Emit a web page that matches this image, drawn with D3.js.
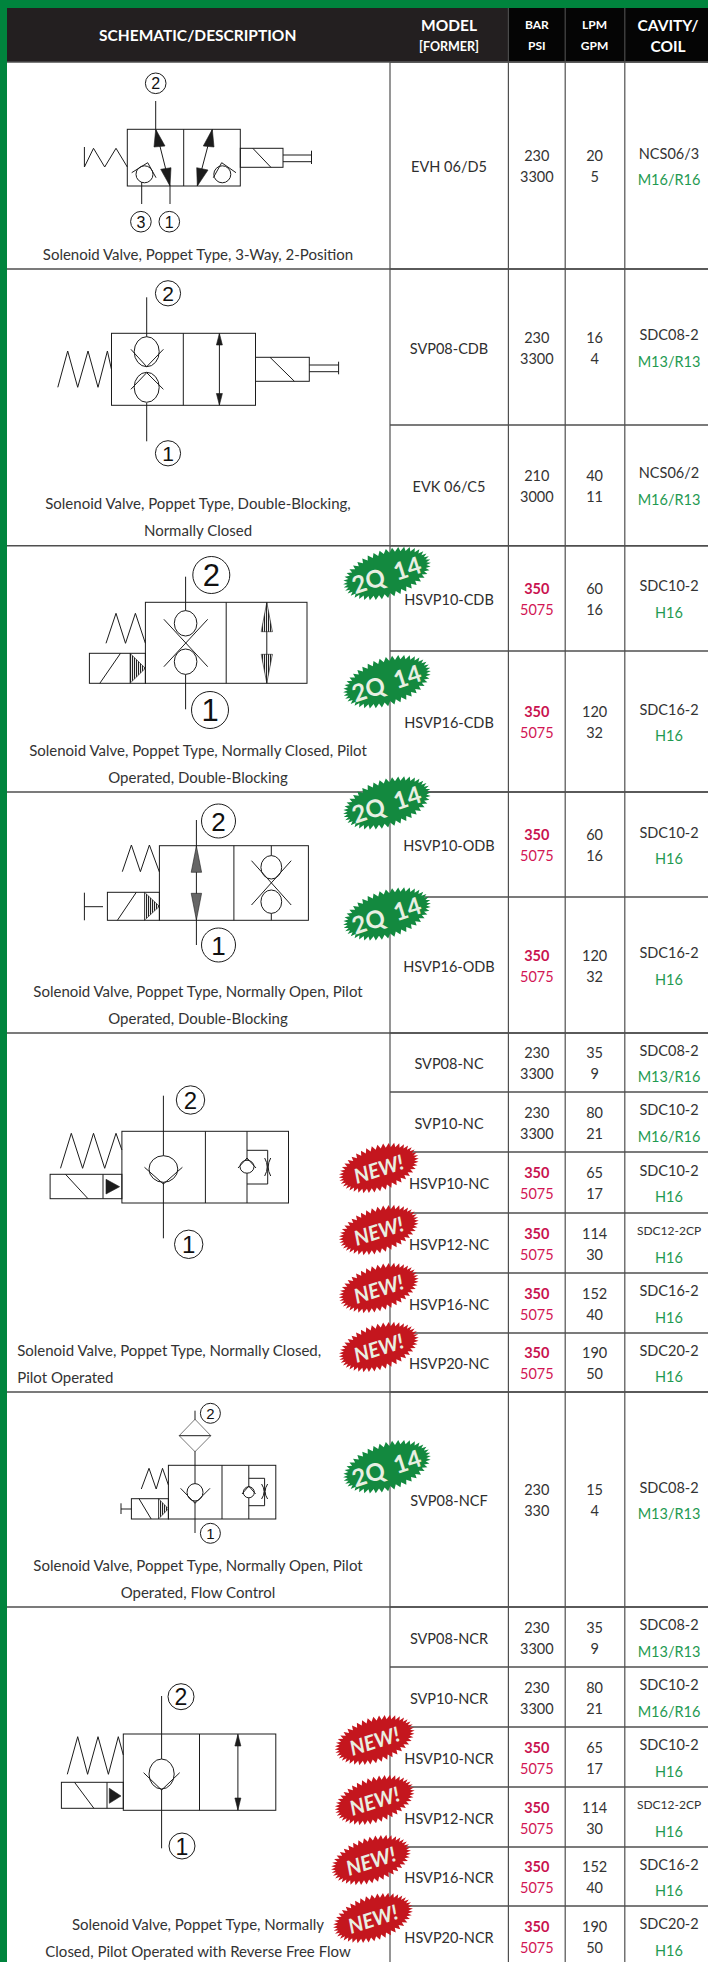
<!DOCTYPE html>
<html>
<head>
<meta charset="utf-8">
<script src="https://cdn.jsdelivr.net/npm/d3@7"></script>
<style>
body { margin: 0; background: #fff; }
svg { display: block; }
text { font-family: Lato, "Noto Sans", sans-serif; }
.sym { fill: none; stroke: #1c1c1c; stroke-width: 1; }
</style>
</head>
<body>
<div class="container"></div>
<script>
const WIDTH = 708;
const HEIGHT = 1962;

// table data
var models = ["EVH 06/D5", "SVP08-CDB", "EVK 06/C5", "HSVP10-CDB", "HSVP16-CDB", "HSVP10-ODB", "HSVP16-ODB",
	"SVP08-NC", "SVP10-NC", "HSVP10-NC", "HSVP12-NC", "HSVP16-NC", "HSVP20-NC", "SVP08-NCF",
	"SVP08-NCR", "SVP10-NCR", "HSVP10-NCR", "HSVP12-NCR", "HSVP16-NCR", "HSVP20-NCR"];
var bar = [230, 230, 210, 350, 350, 350, 350, 230, 230, 350, 350, 350, 350, 230, 230, 230, 350, 350, 350, 350];
var psi = [3300, 3300, 3000, 5075, 5075, 5075, 5075, 3300, 3300, 5075, 5075, 5075, 5075, 330, 3300, 3300, 5075, 5075, 5075, 5075];
var lpm = [20, 16, 40, 60, 120, 60, 120, 35, 80, 65, 114, 152, 190, 15, 35, 80, 65, 114, 152, 190];
var gpm = [5, 4, 11, 16, 32, 16, 32, 9, 21, 17, 30, 40, 50, 4, 9, 21, 17, 30, 40, 50];
var cavities = ["NCS06/3", "SDC08-2", "NCS06/2", "SDC10-2", "SDC16-2", "SDC10-2", "SDC16-2", "SDC08-2", "SDC10-2", "SDC10-2",
	"SDC12-2CP", "SDC16-2", "SDC20-2", "SDC08-2", "SDC08-2", "SDC10-2", "SDC10-2", "SDC12-2CP", "SDC16-2", "SDC20-2"];
var coils = ["M16/R16", "M13/R13", "M16/R13", "H16", "H16", "H16", "H16", "M13/R16", "M16/R16", "H16",
	"H16", "H16", "H16", "M13/R13", "M13/R13", "M16/R16", "H16", "H16", "H16", "H16"];
var badges2Q = ["HSVP10-CDB", "HSVP16-CDB", "HSVP10-ODB", "HSVP16-ODB", "SVP08-NCF"];
var badgesNew = ["HSVP10-NC", "HSVP12-NC", "HSVP16-NC", "HSVP20-NC", "HSVP10-NCR", "HSVP12-NCR", "HSVP16-NCR", "HSVP20-NCR"];
var descriptions = [
	["Solenoid Valve, Poppet Type, 3-Way, 2-Position"],
	["Solenoid Valve, Poppet Type, Double-Blocking,", "Normally Closed"],
	["Solenoid Valve, Poppet Type, Normally Closed, Pilot", "Operated, Double-Blocking"],
	["Solenoid Valve, Poppet Type, Normally Open, Pilot", "Operated, Double-Blocking"],
	["Solenoid Valve, Poppet Type, Normally Closed,", "Pilot Operated"],
	["Solenoid Valve, Poppet Type, Normally Open, Pilot", "Operated, Flow Control"],
	["Solenoid Valve, Poppet Type, Normally", "Closed, Pilot Operated with Reverse Free Flow"]
];

// layout
var rowTops = [62, 269, 425, 545.7, 651, 792, 897, 1033, 1092, 1152, 1213, 1273, 1333, 1392, 1607, 1667, 1727, 1787, 1847, 1906];
var rowEnds = rowTops.slice(1).concat([1966]);
var groupTops = [62, 269, 545.7, 792, 1033, 1392, 1607];
var descY = [253.5, 503, 750, 991.3, 1350, 1565, 1924];
var colEdges = [7, 390, 508.4, 565.2, 624.8, 708];

var yTop = d3.scaleOrdinal().domain(models).range(rowTops);
var yEnd = d3.scaleOrdinal().domain(models).range(rowEnds);
var xCol = d3.scaleOrdinal().domain(["model", "bar", "lpm", "cavity"]).range([449, 536.8, 594.6, 669]);
var yMid = function(d){ return (yTop(d) + yEnd(d)) / 2 + 0.5; };

var svg = d3.select(".container").append("svg")
	.attr("width", WIDTH)
	.attr("height", HEIGHT);

var hatch = svg.append("defs").append("pattern")
	.attr("id", "hatch")
	.attr("patternUnits", "userSpaceOnUse")
	.attr("width", 2)
	.attr("height", 2);
hatch.append("rect").attr("width", 2).attr("height", 2).attr("fill", "#fff");
hatch.append("rect").attr("width", 1.1).attr("height", 2).attr("fill", "#222");

// green frame and header
svg.append("rect").attr("width", WIDTH).attr("height", HEIGHT).attr("fill", "#fff");
svg.append("rect").attr("width", WIDTH).attr("height", 8).attr("fill", "#00843d");
svg.append("rect").attr("width", 7).attr("height", HEIGHT).attr("fill", "#00843d");
svg.append("rect").attr("x", 7).attr("y", 8).attr("width", 501).attr("height", 54).attr("fill", "#231f20");
svg.append("rect").attr("x", 508).attr("y", 8).attr("width", 200).attr("height", 54).attr("fill", "#050505");

var hline = function(x1, x2, y){
	svg.append("line").attr("x1", x1).attr("x2", x2).attr("y1", y).attr("y2", y)
		.attr("stroke", "#4f4f4f").attr("stroke-width", 1.4);
};

// grid
models.forEach(function(d){ hline(390, WIDTH, yTop(d)); });
groupTops.forEach(function(y){ hline(7, WIDTH, y); });
colEdges.slice(1, 5).forEach(function(x){
	svg.append("line").attr("x1", x).attr("x2", x).attr("y1", 62).attr("y2", HEIGHT)
		.attr("stroke", "#4f4f4f").attr("stroke-width", 1.2);
});
colEdges.slice(2, 5).forEach(function(x){
	svg.append("line").attr("x1", x).attr("x2", x).attr("y1", 8).attr("y2", 62)
		.attr("stroke", "#4a4a4a").attr("stroke-width", 1.2);
});

// header labels
var headerText = function(x, y, label, size){
	svg.append("text")
		.attr("x", x).attr("y", y)
		.attr("text-anchor", "middle")
		.attr("dominant-baseline", "central")
		.attr("fill", "#fff")
		.attr("font-weight", 700)
		.attr("font-size", size)
		.text(label);
};
headerText(197.7, 35, "SCHEMATIC/DESCRIPTION", 15.5);
headerText(449, 24.5, "MODEL", 15.5);
headerText(449, 46, "[FORMER]", 12.5);
headerText(536.8, 24.5, "BAR", 12);
headerText(536.8, 45.5, "PSI", 12);
headerText(594.6, 24.5, "LPM", 12);
headerText(594.6, 45.5, "GPM", 12);
headerText(668, 24.5, "CAVITY/", 15.5);
headerText(668, 45.5, "COIL", 15.5);

// helpers for schematics
var poly = function(g, pts){
	return g.append("path").attr("class", "sym").attr("d", d3.line()(pts));
};
var solid = function(g, pts, fill){
	g.append("path").attr("d", d3.line()(pts) + "Z").attr("fill", fill || "#1c1c1c").attr("stroke", "#1c1c1c").attr("stroke-width", 0.6);
};
var box = function(g, x1, y1, x2, y2){
	g.append("rect").attr("class", "sym").attr("x", x1).attr("y", y1).attr("width", x2 - x1).attr("height", y2 - y1);
};
var ball = function(g, cx, cy, rx, ry){
	g.append("ellipse").attr("class", "sym").attr("cx", cx).attr("cy", cy).attr("rx", rx).attr("ry", ry).style("fill", "#fff");
};
var port = function(g, cx, cy, r, label, size){
	ball(g, cx, cy, r, r);
	g.append("text").attr("x", cx).attr("y", cy + 0.5)
		.attr("text-anchor", "middle").attr("dominant-baseline", "central")
		.style("font-family", "Liberation Sans")
		.attr("font-size", size).attr("fill", "#111").text(label);
};
var head = function(g, x, tipY, baseY, hw, fill){
	solid(g, [[x, tipY], [x - hw, baseY], [x + hw, baseY]], fill);
};
var orifice = function(g, x, y1, y2){
	var my = (y1 + y2) / 2;
	g.append("path").attr("class", "sym").attr("d", "M" + (x - 3) + "," + y1 + "Q" + (x + 2) + "," + my + " " + (x - 3) + "," + y2);
	g.append("path").attr("class", "sym").attr("d", "M" + (x + 3) + "," + y1 + "Q" + (x - 2) + "," + my + " " + (x + 3) + "," + y2);
};

var sym = svg.append("g");

var schem1 = function(g){
	box(g, 127.3, 129.3, 240.3, 186);
	poly(g, [[183.7, 129.3], [183.7, 186]]);
	poly(g, [[155.7, 101], [155.7, 129.3], [170, 186], [170, 204]]);
	poly(g, [[212.3, 129.3], [197.3, 186]]);
	solid(g, [[155.7, 129.3], [154, 147], [165, 146]]);
	solid(g, [[170, 186], [160.7, 169.3], [171, 167.7]]);
	solid(g, [[212.3, 129.3], [203.3, 146], [214, 147]]);
	solid(g, [[197.3, 186], [196.7, 167.7], [208, 170]]);
	poly(g, [[84.4, 147], [84.4, 167], [93.5, 148.3], [104.7, 167], [116, 148.3], [127.3, 167]]);
	ball(g, 144.5, 174.3, 8.5, 8.5);
	poly(g, [[131.7, 172.7], [147.7, 162.7], [156, 177.7]]);
	poly(g, [[141.7, 182], [141.7, 204]]);
	ball(g, 222.3, 174.3, 8.5, 8.5);
	poly(g, [[213.3, 177.7], [221.7, 162.7], [236, 172.7]]);
	box(g, 240.3, 148.3, 283, 167.3);
	poly(g, [[252.8, 148.3], [270.9, 167.3]]);
	poly(g, [[283, 155], [311.5, 155]]);
	poly(g, [[283, 161.7], [311.5, 161.7]]);
	poly(g, [[311.5, 150.7], [311.5, 164]]);
	port(g, 155.7, 83.3, 10.3, "2", 16);
	port(g, 140.9, 221.7, 10.3, "3", 16);
	port(g, 169.3, 221.7, 10.3, "1", 16);
};

var schem2 = function(g){
	box(g, 111.5, 333.3, 255.5, 405.3);
	poly(g, [[183.3, 333.3], [183.3, 405.3]]);
	poly(g, [[146.7, 297.3], [146.7, 337]]);
	poly(g, [[146.7, 403], [146.7, 441.3]]);
	ball(g, 146.7, 351.7, 12.5, 15);
	ball(g, 146.7, 387.3, 12.5, 15);
	poly(g, [[130.9, 349.3], [146.7, 366.7], [163.4, 349.3]]);
	poly(g, [[130.9, 389.3], [146.7, 372.7], [163.4, 389.3]]);
	poly(g, [[219.4, 333.3], [219.4, 405.3]]);
	head(g, 219.4, 333.5, 345, 3);
	head(g, 219.4, 405, 393.5, 3);
	poly(g, [[57.8, 387.3], [67.7, 351], [77.7, 387.3], [88, 351], [98, 387.3], [107.4, 351], [111.5, 369.7]]);
	box(g, 255.5, 357.3, 309.3, 381.3);
	poly(g, [[270, 357.3], [294.4, 381.3]]);
	poly(g, [[309.3, 365], [338.6, 365]]);
	poly(g, [[309.3, 371.7], [338.6, 371.7]]);
	poly(g, [[338.6, 361.7], [338.6, 374.3]]);
	port(g, 168, 293.3, 12.6, "2", 21);
	port(g, 168, 453.3, 12.6, "1", 21);
};

var schem3 = function(g){
	box(g, 145.4, 602.3, 307, 683.3);
	box(g, 89.4, 653.3, 145.4, 683.3);
	poly(g, [[226.2, 602.3], [226.2, 683.3]]);
	poly(g, [[185.6, 576.7], [185.6, 611]]);
	poly(g, [[185.6, 674], [185.6, 709.3]]);
	ball(g, 185.6, 623.3, 11.3, 12.7);
	ball(g, 185.6, 661.7, 11.3, 12.7);
	poly(g, [[163.9, 619.3], [207.7, 666.7]]);
	poly(g, [[207.7, 619.3], [163.9, 666.7]]);
	poly(g, [[266.8, 602.3], [266.8, 683.3]]);
	head(g, 266.8, 602.5, 631.7, 5.6, "url(#hatch)");
	head(g, 266.8, 683, 654.3, 5.6, "url(#hatch)");
	poly(g, [[106, 643.3], [116, 613.3], [125.5, 643.3], [135.4, 613.3], [145.4, 643.3]]);
	poly(g, [[99.8, 683.3], [120.5, 653.3]]);
	solid(g, [[130, 653.3], [145.4, 668.3], [130, 683.3]], "url(#hatch)");
	port(g, 211.3, 575, 18.5, "2", 31);
	port(g, 210, 710, 18.5, "1", 31);
};

var schem4 = function(g){
	box(g, 159.4, 845.7, 308.4, 920.3);
	box(g, 107.4, 892.3, 159.4, 920.3);
	poly(g, [[233.9, 845.7], [233.9, 920.3]]);
	poly(g, [[196.4, 820], [196.4, 945]]);
	head(g, 196.4, 846, 872.3, 5.2, "#666");
	head(g, 196.4, 920, 893.3, 5.2, "#666");
	poly(g, [[271.3, 845.7], [271.3, 860]]);
	poly(g, [[271.3, 909], [271.3, 920.3]]);
	ball(g, 271.3, 867.3, 10.4, 11.7);
	ball(g, 271.3, 901.7, 10.4, 11.7);
	poly(g, [[251.5, 860.7], [291.2, 905]]);
	poly(g, [[291.2, 860.7], [251.5, 905]]);
	poly(g, [[122.3, 871.7], [131.4, 845], [140.4, 871.7], [149.4, 845], [159.4, 872]]);
	poly(g, [[117.4, 920.3], [136.3, 892.3]]);
	solid(g, [[144.5, 892.3], [159.4, 906.3], [144.5, 920.3]], "url(#hatch)");
	poly(g, [[84.4, 892.7], [84.4, 920.3]]);
	poly(g, [[84.4, 906.7], [103, 906.7]]);
	port(g, 218.5, 821, 17, "2", 26);
	port(g, 218.5, 945, 17, "1", 26);
};

var schem5 = function(g){
	box(g, 121.9, 1131.3, 288.5, 1203);
	box(g, 50.1, 1174.3, 121.9, 1198.7);
	poly(g, [[205.4, 1131.3], [205.4, 1203]]);
	poly(g, [[247, 1131.3], [247, 1203]]);
	poly(g, [[163.4, 1095.7], [163.4, 1238.3]]);
	ball(g, 163.4, 1169, 14.4, 13.3);
	poly(g, [[144.5, 1167.3], [163.4, 1184], [182.4, 1167.3]]);
	poly(g, [[247, 1150.3], [267.7, 1150.3], [267.7, 1184], [247, 1184]]);
	ball(g, 247, 1166.7, 7, 6.5);
	poly(g, [[238, 1168], [247, 1158], [256, 1168]]);
	orifice(g, 267.7, 1158, 1176);
	poly(g, [[60.5, 1168.3], [71.3, 1133.3], [82.6, 1168.3], [93.5, 1133.3], [104.7, 1168.3], [116, 1133.3], [121.9, 1150]]);
	poly(g, [[65.5, 1174.3], [88, 1198.7]]);
	poly(g, [[103, 1174.3], [103, 1198.7]]);
	solid(g, [[106, 1179.3], [119.6, 1186.7], [106, 1194]]);
	port(g, 190.5, 1100, 14.2, "2", 24);
	port(g, 188.7, 1244.3, 14.2, "1", 24);
};

var schem6 = function(g){
	box(g, 168.4, 1465.3, 275.8, 1519);
	box(g, 131.4, 1498.7, 168.4, 1519);
	poly(g, [[222, 1465.3], [222, 1519]]);
	poly(g, [[248.8, 1465.3], [248.8, 1519]]);
	poly(g, [[195, 1410.7], [195, 1533]]);
	solid(g, [[179.2, 1435.7], [195, 1419.3], [210.8, 1435.7], [195, 1451.7]], "#fff");
	poly(g, [[179.2, 1435.7], [210.8, 1435.7]]);
	ball(g, 195, 1492.3, 8, 8.7);
	poly(g, [[180.6, 1488.3], [195, 1503.3], [210, 1488.3]]);
	poly(g, [[248.8, 1478.3], [264.6, 1478.3], [264.6, 1505.7], [248.8, 1505.7]]);
	ball(g, 248.8, 1492.3, 5.5, 5.5);
	poly(g, [[242, 1494], [248.8, 1486], [255.6, 1494]]);
	orifice(g, 264.6, 1484, 1499);
	poly(g, [[141.3, 1489], [149, 1468.3], [156.2, 1489], [162.5, 1468.3], [168.4, 1485]]);
	poly(g, [[139, 1498.7], [151.2, 1519]]);
	solid(g, [[158.5, 1498.7], [168.4, 1508.8], [158.5, 1519]], "url(#hatch)");
	poly(g, [[121, 1503.3], [121, 1514]]);
	poly(g, [[121, 1509], [131.4, 1509]]);
	port(g, 210.4, 1413.3, 10, "2", 15);
	port(g, 210.4, 1533.3, 10, "1", 15);
};

var schem7 = function(g){
	box(g, 123.3, 1734, 275.8, 1810.3);
	box(g, 61.4, 1782.3, 123.3, 1808.3);
	poly(g, [[199.5, 1734], [199.5, 1810.3]]);
	poly(g, [[161.6, 1696], [161.6, 1848.3]]);
	ball(g, 161.6, 1774, 12.6, 15);
	poly(g, [[143.6, 1772.7], [161.6, 1790], [179.7, 1772.7]]);
	poly(g, [[237.9, 1734], [237.9, 1810.3]]);
	head(g, 237.9, 1734.5, 1746, 3);
	head(g, 237.9, 1810, 1798, 3);
	poly(g, [[67.3, 1774.3], [77.7, 1736.7], [87.6, 1774.3], [98, 1736.7], [108.4, 1774.3], [118.3, 1736.7], [123.3, 1755]]);
	poly(g, [[74.5, 1782.3], [93.9, 1808.3]]);
	poly(g, [[107, 1782.3], [107, 1808.3]]);
	solid(g, [[109.3, 1788.3], [121, 1796], [109.3, 1803.3]]);
	port(g, 181, 1696.7, 13, "2", 23);
	port(g, 182, 1846, 13, "1", 23);
};

[schem1, schem2, schem3, schem4, schem5, schem6, schem7].forEach(function(f){ f(sym.append("g")); });

// description lines
descriptions.forEach(function(lines, i){
	lines.forEach(function(t, j){
		var leftAligned = i == 4;
		svg.append("text")
			.attr("x", leftAligned ? 17.2 : 198)
			.attr("y", descY[i] + j * 26.7)
			.attr("text-anchor", leftAligned ? "start" : "middle")
			.attr("dominant-baseline", "central")
			.attr("font-size", 15)
			.attr("fill", "#333")
			.text(t);
	});
});

// starburst badges, spikes a fixed depth out from an inner ellipse
var burst = function(cx, cy, a, b, fill){
	var pts = d3.range(88).map(function(i){
		var t = i / 88 * 2 * Math.PI;
		var d = i % 2 ? 4.5 : 0;
		return [(a - d) * Math.cos(t), (b - d) * Math.sin(t)];
	});
	var g = svg.append("g").attr("transform", "translate(" + cx + "," + cy + ") rotate(-18)");
	g.append("path").attr("d", d3.line()(pts) + "Z").attr("fill", fill);
	return g;
};
var badgeText = function(g, x, label, size, italic){
	g.append("text").attr("x", x).attr("y", 0.5)
		.attr("text-anchor", "middle").attr("dominant-baseline", "central")
		.attr("font-size", size).attr("font-weight", 700)
		.attr("font-style", italic ? "italic" : "normal")
		.attr("fill", "#e8efe2").text(label);
};

var y2Q = d3.scaleOrdinal().domain(badges2Q).range([573.5, 681.7, 803, 914, 1466.7]);
var xNew = d3.scaleOrdinal().domain(badgesNew).range([378.8, 378.8, 378.8, 378.8, 374.7, 374.7, 371, 373]);
var yNew = d3.scaleOrdinal().domain(badgesNew).range([1168, 1230, 1288, 1347, 1740, 1800, 1860, 1918]);

badges2Q.forEach(function(d){
	var g = burst(387, y2Q(d), 45.5, 24, "#13893f");
	badgeText(g, -20, "2Q", 24);
	badgeText(g, 21, "14", 24);
});
badgesNew.forEach(function(d){
	var g = burst(xNew(d), yNew(d), 41.4, 22.8, "#c4161e");
	badgeText(g, -0.5, "NEW!", 20.5, true);
});

// table rows
var rows = svg.selectAll("g.row").data(models).enter().append("g").classed("row", true);

var cellText = function(col, dy, value, size, color, weight){
	rows.append("text")
		.attr("x", xCol(col))
		.attr("y", function(d){ return yMid(d) + dy; })
		.attr("text-anchor", "middle")
		.attr("dominant-baseline", "central")
		.attr("font-size", typeof size == "function" ? function(d, i){ return size(i); } : size)
		.attr("font-weight", typeof weight == "function" ? function(d, i){ return weight(i); } : (weight || 400))
		.attr("fill", function(d, i){ return typeof color == "function" ? color(i) : color; })
		.text(function(d, i){ return value[i]; });
};

var isHigh = function(i){ return bar[i] == 350; };
cellText("model", 0.5, models, 14.5, "#2e2e2e");
cellText("bar", -10.5, bar, 14.5, function(i){ return isHigh(i) ? "#c9124f" : "#333"; }, function(i){ return isHigh(i) ? 700 : 400; });
cellText("bar", 10.5, psi, 14.5, function(i){ return isHigh(i) ? "#d21654" : "#333"; });
cellText("lpm", -10.5, lpm, 14.5, "#333");
cellText("lpm", 10.5, gpm, 14.5, "#333");
cellText("cavity", -13, cavities, function(i){ return cavities[i].length > 8 ? 12 : 14.5; }, "#333");
cellText("cavity", 13.5, coils, 14.5, "#1f9a52");
</script>
</body>
</html>
